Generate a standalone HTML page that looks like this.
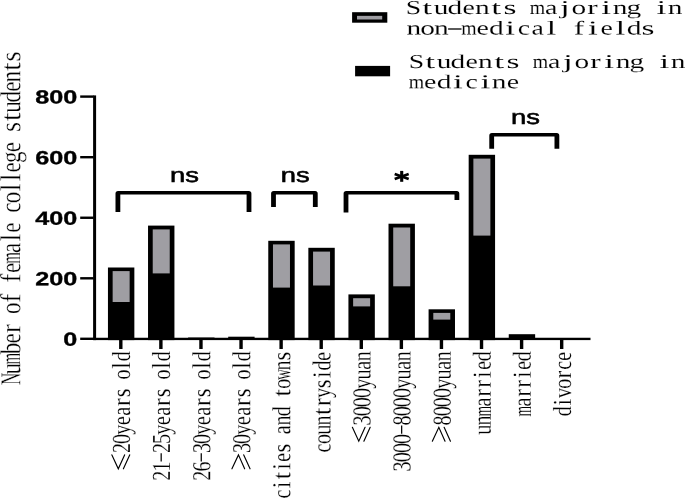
<!DOCTYPE html>
<html><head><meta charset="utf-8"><title>chart</title>
<style>html,body{margin:0;padding:0;background:#fff;}svg{display:block;will-change:transform;}text{font-family:"Liberation Sans",sans-serif;fill:#000;text-rendering:geometricPrecision;}.mono{font-family:"Liberation Mono",monospace;}.serif{font-family:"Liberation Serif",serif;}.leg{stroke:#fff;stroke-width:0.2px;}.legs{stroke:#fff;stroke-width:0.1px;}.lab{stroke:#fff;stroke-width:0.32px;}.labx{stroke:#fff;stroke-width:0.2px;}</style></head><body>
<svg width="685" height="498" viewBox="0 0 685 498">
<rect width="685" height="498" fill="#fff"/>
<g>
<rect x="107.95" y="267.5" width="26.40" height="72.60" fill="#000"/>
<rect x="112.65" y="271.1" width="17.00" height="30.90" fill="#9f9ea3"/>
<rect x="148.03" y="225.6" width="26.40" height="114.50" fill="#000"/>
<rect x="152.73" y="229.4" width="17.00" height="44.00" fill="#9f9ea3"/>
<rect x="268.27" y="240.8" width="26.40" height="99.30" fill="#000"/>
<rect x="272.97" y="244.4" width="17.00" height="43.20" fill="#9f9ea3"/>
<rect x="308.35" y="247.8" width="26.40" height="92.30" fill="#000"/>
<rect x="313.05" y="251.6" width="17.00" height="33.90" fill="#9f9ea3"/>
<rect x="348.43" y="294.4" width="26.40" height="45.70" fill="#000"/>
<rect x="353.13" y="298.2" width="17.00" height="8.20" fill="#9f9ea3"/>
<rect x="388.51" y="223.7" width="26.40" height="116.40" fill="#000"/>
<rect x="393.21" y="227.5" width="17.00" height="58.80" fill="#9f9ea3"/>
<rect x="428.59" y="309.3" width="26.40" height="30.80" fill="#000"/>
<rect x="433.29" y="312.9" width="17.00" height="6.70" fill="#9f9ea3"/>
<rect x="468.67" y="154.8" width="26.40" height="185.30" fill="#000"/>
<rect x="473.37" y="158.6" width="17.00" height="77.00" fill="#9f9ea3"/>
<rect x="188.11" y="337.2" width="26.40" height="1.5" fill="#000" opacity="0.6"/>
<rect x="228.19" y="336.7" width="26.40" height="2" fill="#000"/>
<rect x="508.75" y="334.2" width="26.40" height="5" fill="#000"/>
<rect x="93.1" y="95.4" width="3.0" height="244.70" fill="#000"/>
<rect x="93.2" y="337.75" width="497.30" height="2.35" fill="#000"/>
<rect x="80.2" y="95.40" width="13.5" height="2.4" fill="#000"/>
<text x="0" y="0" font-size="19.0" font-weight="bold" stroke="#000" stroke-width="0.35" text-anchor="end" transform="translate(77.2,103.60) rotate(0.04) scale(1.325,1)">800</text>
<rect x="80.2" y="156.00" width="13.5" height="2.4" fill="#000"/>
<text x="0" y="0" font-size="19.0" font-weight="bold" stroke="#000" stroke-width="0.35" text-anchor="end" transform="translate(77.2,164.20) rotate(0.04) scale(1.325,1)">600</text>
<rect x="80.2" y="216.55" width="13.5" height="2.4" fill="#000"/>
<text x="0" y="0" font-size="19.0" font-weight="bold" stroke="#000" stroke-width="0.35" text-anchor="end" transform="translate(77.2,224.75) rotate(0.04) scale(1.325,1)">400</text>
<rect x="80.2" y="277.10" width="13.5" height="2.4" fill="#000"/>
<text x="0" y="0" font-size="19.0" font-weight="bold" stroke="#000" stroke-width="0.35" text-anchor="end" transform="translate(77.2,285.30) rotate(0.04) scale(1.325,1)">200</text>
<rect x="80.2" y="337.60" width="13.5" height="2.4" fill="#000"/>
<text x="0" y="0" font-size="19.0" font-weight="bold" stroke="#000" stroke-width="0.35" text-anchor="end" transform="translate(77.2,345.80) rotate(0.04) scale(1.325,1)">0</text>
<rect x="119.10" y="339.6" width="3.4" height="9.40" fill="#000"/>
<rect x="159.18" y="339.6" width="3.4" height="9.40" fill="#000"/>
<rect x="199.26" y="339.6" width="3.4" height="9.40" fill="#000"/>
<rect x="239.34" y="339.6" width="3.4" height="9.40" fill="#000"/>
<rect x="279.42" y="339.6" width="3.4" height="9.40" fill="#000"/>
<rect x="319.50" y="339.6" width="3.4" height="9.40" fill="#000"/>
<rect x="359.58" y="339.6" width="3.4" height="9.40" fill="#000"/>
<rect x="399.66" y="339.6" width="3.4" height="9.40" fill="#000"/>
<rect x="439.74" y="339.6" width="3.4" height="9.40" fill="#000"/>
<rect x="479.82" y="339.6" width="3.4" height="9.40" fill="#000"/>
<rect x="519.90" y="339.6" width="3.4" height="9.40" fill="#000"/>
<rect x="559.98" y="339.6" width="3.4" height="9.40" fill="#000"/>
<path d="M115.5 212 L115.5 193.60 Q115.5 191.0 118.10 191.0 L248.80 191.0 Q251.4 191.0 251.4 193.60 L251.4 212 L246.60 212 L246.60 194.50 L120.30 194.50 L120.30 212 Z" fill="#000"/>
<path d="M271.1 207 L271.1 193.60 Q271.1 191.0 273.70 191.0 L315.10 191.0 Q317.7 191.0 317.7 193.60 L317.7 207 L312.90 207 L312.90 194.50 L275.90 194.50 L275.90 207 Z" fill="#000"/>
<path d="M343.6 212.5 L343.6 193.60 Q343.6 191.0 346.20 191.0 L456.70 191.0 Q459.3 191.0 459.3 193.60 L459.3 199.9 L454.50 199.9 L454.50 194.50 L348.40 194.50 L348.40 212.5 Z" fill="#000"/>
<path d="M489.3 148.8 L489.3 135.70 Q489.3 133.1 491.90 133.1 L556.70 133.1 Q559.3 133.1 559.3 135.70 L559.3 148.8 L554.50 148.8 L554.50 136.60 L494.10 136.60 L494.10 148.8 Z" fill="#000"/>
<text font-size="20.6" text-anchor="middle" stroke="#000" stroke-width="0.55" transform="translate(184.5,182.0) scale(1.33,1)">ns</text>
<text font-size="20.6" text-anchor="middle" stroke="#000" stroke-width="0.55" transform="translate(295.2,182.0) scale(1.33,1)">ns</text>
<text font-size="20.6" text-anchor="middle" stroke="#000" stroke-width="0.55" transform="translate(525.4,124.4) scale(1.33,1)">ns</text>
<g stroke="#000" stroke-width="3.1" fill="none"><path d="M401.7 170.9 L401.7 181.8"/><path d="M394.7 173.95 L408.7 178.95" stroke-width="2.7"/><path d="M394.7 178.95 L408.7 173.95" stroke-width="2.7"/></g>
<text class="serif labx" font-size="26.0" text-anchor="middle" transform="translate(130.00,448.10) rotate(-89.95) scale(0.770,1)">2</text>
<text class="serif labx" font-size="26.0" text-anchor="middle" transform="translate(130.00,438.91) rotate(-89.95) scale(0.770,1)">0</text>
<text class="serif labx" font-size="26.0" text-anchor="middle" transform="translate(130.00,429.72) rotate(-89.95) scale(0.770,1)">y</text>
<text class="serif labx" font-size="26.0" text-anchor="middle" transform="translate(130.00,420.53) rotate(-89.95) scale(0.770,1)">e</text>
<text class="serif labx" font-size="26.0" text-anchor="middle" transform="translate(130.00,411.34) rotate(-89.95) scale(0.770,1)">a</text>
<text class="serif labx" font-size="26.0" text-anchor="middle" transform="translate(130.00,402.15) rotate(-89.95) scale(0.901,1)">r</text>
<text class="serif labx" font-size="26.0" text-anchor="middle" transform="translate(130.00,392.96) rotate(-89.95) scale(0.862,1)">s</text>
<text class="serif labx" font-size="26.0" text-anchor="middle" transform="translate(130.00,374.58) rotate(-89.95) scale(0.770,1)">o</text>
<text class="serif labx" font-size="26.0" text-anchor="middle" transform="translate(130.00,365.39) rotate(-89.95) scale(0.924,1)">l</text>
<text class="serif labx" font-size="26.0" text-anchor="middle" transform="translate(130.00,356.20) rotate(-89.95) scale(0.770,1)">d</text>
<g stroke="#000" stroke-width="1.15" fill="none" stroke-linecap="round"><path d="M111.90 454.89 L118.30 468.79 L124.60 454.89"/><path d="M123.40 468.79 L129.70 454.89"/></g>
<text class="serif labx" font-size="26.0" text-anchor="middle" transform="translate(170.08,475.67) rotate(-89.95) scale(0.770,1)">2</text>
<text class="serif labx" font-size="26.0" text-anchor="middle" transform="translate(170.08,466.48) rotate(-89.95) scale(0.770,1)">1</text>
<path d="M161.18 453.19 L161.18 461.39" stroke="#000" stroke-width="1.25" fill="none"/>
<text class="serif labx" font-size="26.0" text-anchor="middle" transform="translate(170.08,448.10) rotate(-89.95) scale(0.770,1)">2</text>
<text class="serif labx" font-size="26.0" text-anchor="middle" transform="translate(170.08,438.91) rotate(-89.95) scale(0.770,1)">5</text>
<text class="serif labx" font-size="26.0" text-anchor="middle" transform="translate(170.08,429.72) rotate(-89.95) scale(0.770,1)">y</text>
<text class="serif labx" font-size="26.0" text-anchor="middle" transform="translate(170.08,420.53) rotate(-89.95) scale(0.770,1)">e</text>
<text class="serif labx" font-size="26.0" text-anchor="middle" transform="translate(170.08,411.34) rotate(-89.95) scale(0.770,1)">a</text>
<text class="serif labx" font-size="26.0" text-anchor="middle" transform="translate(170.08,402.15) rotate(-89.95) scale(0.901,1)">r</text>
<text class="serif labx" font-size="26.0" text-anchor="middle" transform="translate(170.08,392.96) rotate(-89.95) scale(0.862,1)">s</text>
<text class="serif labx" font-size="26.0" text-anchor="middle" transform="translate(170.08,374.58) rotate(-89.95) scale(0.770,1)">o</text>
<text class="serif labx" font-size="26.0" text-anchor="middle" transform="translate(170.08,365.39) rotate(-89.95) scale(0.924,1)">l</text>
<text class="serif labx" font-size="26.0" text-anchor="middle" transform="translate(170.08,356.20) rotate(-89.95) scale(0.770,1)">d</text>
<text class="serif labx" font-size="26.0" text-anchor="middle" transform="translate(210.16,475.67) rotate(-89.95) scale(0.770,1)">2</text>
<text class="serif labx" font-size="26.0" text-anchor="middle" transform="translate(210.16,466.48) rotate(-89.95) scale(0.770,1)">6</text>
<path d="M201.26 453.19 L201.26 461.39" stroke="#000" stroke-width="1.25" fill="none"/>
<text class="serif labx" font-size="26.0" text-anchor="middle" transform="translate(210.16,448.10) rotate(-89.95) scale(0.770,1)">3</text>
<text class="serif labx" font-size="26.0" text-anchor="middle" transform="translate(210.16,438.91) rotate(-89.95) scale(0.770,1)">0</text>
<text class="serif labx" font-size="26.0" text-anchor="middle" transform="translate(210.16,429.72) rotate(-89.95) scale(0.770,1)">y</text>
<text class="serif labx" font-size="26.0" text-anchor="middle" transform="translate(210.16,420.53) rotate(-89.95) scale(0.770,1)">e</text>
<text class="serif labx" font-size="26.0" text-anchor="middle" transform="translate(210.16,411.34) rotate(-89.95) scale(0.770,1)">a</text>
<text class="serif labx" font-size="26.0" text-anchor="middle" transform="translate(210.16,402.15) rotate(-89.95) scale(0.901,1)">r</text>
<text class="serif labx" font-size="26.0" text-anchor="middle" transform="translate(210.16,392.96) rotate(-89.95) scale(0.862,1)">s</text>
<text class="serif labx" font-size="26.0" text-anchor="middle" transform="translate(210.16,374.58) rotate(-89.95) scale(0.770,1)">o</text>
<text class="serif labx" font-size="26.0" text-anchor="middle" transform="translate(210.16,365.39) rotate(-89.95) scale(0.924,1)">l</text>
<text class="serif labx" font-size="26.0" text-anchor="middle" transform="translate(210.16,356.20) rotate(-89.95) scale(0.770,1)">d</text>
<text class="serif labx" font-size="26.0" text-anchor="middle" transform="translate(250.24,448.10) rotate(-89.95) scale(0.770,1)">3</text>
<text class="serif labx" font-size="26.0" text-anchor="middle" transform="translate(250.24,438.91) rotate(-89.95) scale(0.770,1)">0</text>
<text class="serif labx" font-size="26.0" text-anchor="middle" transform="translate(250.24,429.72) rotate(-89.95) scale(0.770,1)">y</text>
<text class="serif labx" font-size="26.0" text-anchor="middle" transform="translate(250.24,420.53) rotate(-89.95) scale(0.770,1)">e</text>
<text class="serif labx" font-size="26.0" text-anchor="middle" transform="translate(250.24,411.34) rotate(-89.95) scale(0.770,1)">a</text>
<text class="serif labx" font-size="26.0" text-anchor="middle" transform="translate(250.24,402.15) rotate(-89.95) scale(0.901,1)">r</text>
<text class="serif labx" font-size="26.0" text-anchor="middle" transform="translate(250.24,392.96) rotate(-89.95) scale(0.862,1)">s</text>
<text class="serif labx" font-size="26.0" text-anchor="middle" transform="translate(250.24,374.58) rotate(-89.95) scale(0.770,1)">o</text>
<text class="serif labx" font-size="26.0" text-anchor="middle" transform="translate(250.24,365.39) rotate(-89.95) scale(0.924,1)">l</text>
<text class="serif labx" font-size="26.0" text-anchor="middle" transform="translate(250.24,356.20) rotate(-89.95) scale(0.770,1)">d</text>
<g stroke="#000" stroke-width="1.15" fill="none" stroke-linecap="round"><path d="M231.94 468.79 L238.44 454.89 L244.64 468.79"/><path d="M243.74 454.89 L250.04 468.79"/></g>
<text class="serif labx" font-size="26.0" text-anchor="middle" transform="translate(290.32,494.05) rotate(-89.95) scale(0.770,1)">c</text>
<text class="serif labx" font-size="26.0" text-anchor="middle" transform="translate(290.32,484.86) rotate(-89.95) scale(0.924,1)">i</text>
<text class="serif labx" font-size="26.0" text-anchor="middle" transform="translate(290.32,475.67) rotate(-89.95) scale(1.001,1)">t</text>
<text class="serif labx" font-size="26.0" text-anchor="middle" transform="translate(290.32,466.48) rotate(-89.95) scale(0.924,1)">i</text>
<text class="serif labx" font-size="26.0" text-anchor="middle" transform="translate(290.32,457.29) rotate(-89.95) scale(0.770,1)">e</text>
<text class="serif labx" font-size="26.0" text-anchor="middle" transform="translate(290.32,448.10) rotate(-89.95) scale(0.862,1)">s</text>
<text class="serif labx" font-size="26.0" text-anchor="middle" transform="translate(290.32,429.72) rotate(-89.95) scale(0.770,1)">a</text>
<text class="serif labx" font-size="26.0" text-anchor="middle" transform="translate(290.32,420.53) rotate(-89.95) scale(0.770,1)">n</text>
<text class="serif labx" font-size="26.0" text-anchor="middle" transform="translate(290.32,411.34) rotate(-89.95) scale(0.770,1)">d</text>
<text class="serif labx" font-size="26.0" text-anchor="middle" transform="translate(290.32,392.96) rotate(-89.95) scale(1.001,1)">t</text>
<text class="serif labx" font-size="26.0" text-anchor="middle" transform="translate(290.32,383.77) rotate(-89.95) scale(0.770,1)">o</text>
<text class="serif labx" font-size="26.0" text-anchor="middle" transform="translate(290.32,374.58) rotate(-89.95) scale(0.563,1)">w</text>
<text class="serif labx" font-size="26.0" text-anchor="middle" transform="translate(290.32,365.39) rotate(-89.95) scale(0.770,1)">n</text>
<text class="serif labx" font-size="26.0" text-anchor="middle" transform="translate(290.32,356.20) rotate(-89.95) scale(0.862,1)">s</text>
<text class="serif labx" font-size="26.0" text-anchor="middle" transform="translate(330.40,448.10) rotate(-89.95) scale(0.770,1)">c</text>
<text class="serif labx" font-size="26.0" text-anchor="middle" transform="translate(330.40,438.91) rotate(-89.95) scale(0.770,1)">o</text>
<text class="serif labx" font-size="26.0" text-anchor="middle" transform="translate(330.40,429.72) rotate(-89.95) scale(0.770,1)">u</text>
<text class="serif labx" font-size="26.0" text-anchor="middle" transform="translate(330.40,420.53) rotate(-89.95) scale(0.770,1)">n</text>
<text class="serif labx" font-size="26.0" text-anchor="middle" transform="translate(330.40,411.34) rotate(-89.95) scale(1.001,1)">t</text>
<text class="serif labx" font-size="26.0" text-anchor="middle" transform="translate(330.40,402.15) rotate(-89.95) scale(0.901,1)">r</text>
<text class="serif labx" font-size="26.0" text-anchor="middle" transform="translate(330.40,392.96) rotate(-89.95) scale(0.770,1)">y</text>
<text class="serif labx" font-size="26.0" text-anchor="middle" transform="translate(330.40,383.77) rotate(-89.95) scale(0.862,1)">s</text>
<text class="serif labx" font-size="26.0" text-anchor="middle" transform="translate(330.40,374.58) rotate(-89.95) scale(0.924,1)">i</text>
<text class="serif labx" font-size="26.0" text-anchor="middle" transform="translate(330.40,365.39) rotate(-89.95) scale(0.770,1)">d</text>
<text class="serif labx" font-size="26.0" text-anchor="middle" transform="translate(330.40,356.20) rotate(-89.95) scale(0.770,1)">e</text>
<text class="serif labx" font-size="26.0" text-anchor="middle" transform="translate(370.48,420.53) rotate(-89.95) scale(0.770,1)">3</text>
<text class="serif labx" font-size="26.0" text-anchor="middle" transform="translate(370.48,411.34) rotate(-89.95) scale(0.770,1)">0</text>
<text class="serif labx" font-size="26.0" text-anchor="middle" transform="translate(370.48,402.15) rotate(-89.95) scale(0.770,1)">0</text>
<text class="serif labx" font-size="26.0" text-anchor="middle" transform="translate(370.48,392.96) rotate(-89.95) scale(0.770,1)">0</text>
<text class="serif labx" font-size="26.0" text-anchor="middle" transform="translate(370.48,383.77) rotate(-89.95) scale(0.770,1)">y</text>
<text class="serif labx" font-size="26.0" text-anchor="middle" transform="translate(370.48,374.58) rotate(-89.95) scale(0.770,1)">u</text>
<text class="serif labx" font-size="26.0" text-anchor="middle" transform="translate(370.48,365.39) rotate(-89.95) scale(0.770,1)">a</text>
<text class="serif labx" font-size="26.0" text-anchor="middle" transform="translate(370.48,356.20) rotate(-89.95) scale(0.770,1)">n</text>
<g stroke="#000" stroke-width="1.15" fill="none" stroke-linecap="round"><path d="M352.38 427.32 L358.78 441.22 L365.08 427.32"/><path d="M363.88 441.22 L370.18 427.32"/></g>
<text class="serif labx" font-size="26.0" text-anchor="middle" transform="translate(410.56,466.48) rotate(-89.95) scale(0.770,1)">3</text>
<text class="serif labx" font-size="26.0" text-anchor="middle" transform="translate(410.56,457.29) rotate(-89.95) scale(0.770,1)">0</text>
<text class="serif labx" font-size="26.0" text-anchor="middle" transform="translate(410.56,448.10) rotate(-89.95) scale(0.770,1)">0</text>
<text class="serif labx" font-size="26.0" text-anchor="middle" transform="translate(410.56,438.91) rotate(-89.95) scale(0.770,1)">0</text>
<path d="M401.66 425.62 L401.66 433.82" stroke="#000" stroke-width="1.25" fill="none"/>
<text class="serif labx" font-size="26.0" text-anchor="middle" transform="translate(410.56,420.53) rotate(-89.95) scale(0.770,1)">8</text>
<text class="serif labx" font-size="26.0" text-anchor="middle" transform="translate(410.56,411.34) rotate(-89.95) scale(0.770,1)">0</text>
<text class="serif labx" font-size="26.0" text-anchor="middle" transform="translate(410.56,402.15) rotate(-89.95) scale(0.770,1)">0</text>
<text class="serif labx" font-size="26.0" text-anchor="middle" transform="translate(410.56,392.96) rotate(-89.95) scale(0.770,1)">0</text>
<text class="serif labx" font-size="26.0" text-anchor="middle" transform="translate(410.56,383.77) rotate(-89.95) scale(0.770,1)">y</text>
<text class="serif labx" font-size="26.0" text-anchor="middle" transform="translate(410.56,374.58) rotate(-89.95) scale(0.770,1)">u</text>
<text class="serif labx" font-size="26.0" text-anchor="middle" transform="translate(410.56,365.39) rotate(-89.95) scale(0.770,1)">a</text>
<text class="serif labx" font-size="26.0" text-anchor="middle" transform="translate(410.56,356.20) rotate(-89.95) scale(0.770,1)">n</text>
<text class="serif labx" font-size="26.0" text-anchor="middle" transform="translate(450.64,420.53) rotate(-89.95) scale(0.770,1)">8</text>
<text class="serif labx" font-size="26.0" text-anchor="middle" transform="translate(450.64,411.34) rotate(-89.95) scale(0.770,1)">0</text>
<text class="serif labx" font-size="26.0" text-anchor="middle" transform="translate(450.64,402.15) rotate(-89.95) scale(0.770,1)">0</text>
<text class="serif labx" font-size="26.0" text-anchor="middle" transform="translate(450.64,392.96) rotate(-89.95) scale(0.770,1)">0</text>
<text class="serif labx" font-size="26.0" text-anchor="middle" transform="translate(450.64,383.77) rotate(-89.95) scale(0.770,1)">y</text>
<text class="serif labx" font-size="26.0" text-anchor="middle" transform="translate(450.64,374.58) rotate(-89.95) scale(0.770,1)">u</text>
<text class="serif labx" font-size="26.0" text-anchor="middle" transform="translate(450.64,365.39) rotate(-89.95) scale(0.770,1)">a</text>
<text class="serif labx" font-size="26.0" text-anchor="middle" transform="translate(450.64,356.20) rotate(-89.95) scale(0.770,1)">n</text>
<g stroke="#000" stroke-width="1.15" fill="none" stroke-linecap="round"><path d="M432.34 441.22 L438.84 427.32 L445.04 441.22"/><path d="M444.14 427.32 L450.44 441.22"/></g>
<text class="serif labx" font-size="26.0" text-anchor="middle" transform="translate(490.72,429.72) rotate(-89.95) scale(0.770,1)">u</text>
<text class="serif labx" font-size="26.0" text-anchor="middle" transform="translate(490.72,420.53) rotate(-89.95) scale(0.770,1)">n</text>
<text class="serif labx" font-size="26.0" text-anchor="middle" transform="translate(490.72,411.34) rotate(-89.95) scale(0.522,1)">m</text>
<text class="serif labx" font-size="26.0" text-anchor="middle" transform="translate(490.72,402.15) rotate(-89.95) scale(0.770,1)">a</text>
<text class="serif labx" font-size="26.0" text-anchor="middle" transform="translate(490.72,392.96) rotate(-89.95) scale(0.901,1)">r</text>
<text class="serif labx" font-size="26.0" text-anchor="middle" transform="translate(490.72,383.77) rotate(-89.95) scale(0.901,1)">r</text>
<text class="serif labx" font-size="26.0" text-anchor="middle" transform="translate(490.72,374.58) rotate(-89.95) scale(0.924,1)">i</text>
<text class="serif labx" font-size="26.0" text-anchor="middle" transform="translate(490.72,365.39) rotate(-89.95) scale(0.770,1)">e</text>
<text class="serif labx" font-size="26.0" text-anchor="middle" transform="translate(490.72,356.20) rotate(-89.95) scale(0.770,1)">d</text>
<text class="serif labx" font-size="26.0" text-anchor="middle" transform="translate(530.80,411.34) rotate(-89.95) scale(0.522,1)">m</text>
<text class="serif labx" font-size="26.0" text-anchor="middle" transform="translate(530.80,402.15) rotate(-89.95) scale(0.770,1)">a</text>
<text class="serif labx" font-size="26.0" text-anchor="middle" transform="translate(530.80,392.96) rotate(-89.95) scale(0.901,1)">r</text>
<text class="serif labx" font-size="26.0" text-anchor="middle" transform="translate(530.80,383.77) rotate(-89.95) scale(0.901,1)">r</text>
<text class="serif labx" font-size="26.0" text-anchor="middle" transform="translate(530.80,374.58) rotate(-89.95) scale(0.924,1)">i</text>
<text class="serif labx" font-size="26.0" text-anchor="middle" transform="translate(530.80,365.39) rotate(-89.95) scale(0.770,1)">e</text>
<text class="serif labx" font-size="26.0" text-anchor="middle" transform="translate(530.80,356.20) rotate(-89.95) scale(0.770,1)">d</text>
<text class="serif labx" font-size="26.0" text-anchor="middle" transform="translate(570.88,411.34) rotate(-89.95) scale(0.770,1)">d</text>
<text class="serif labx" font-size="26.0" text-anchor="middle" transform="translate(570.88,402.15) rotate(-89.95) scale(0.924,1)">i</text>
<text class="serif labx" font-size="26.0" text-anchor="middle" transform="translate(570.88,392.96) rotate(-89.95) scale(0.770,1)">v</text>
<text class="serif labx" font-size="26.0" text-anchor="middle" transform="translate(570.88,383.77) rotate(-89.95) scale(0.770,1)">o</text>
<text class="serif labx" font-size="26.0" text-anchor="middle" transform="translate(570.88,374.58) rotate(-89.95) scale(0.901,1)">r</text>
<text class="serif labx" font-size="26.0" text-anchor="middle" transform="translate(570.88,365.39) rotate(-89.95) scale(0.770,1)">c</text>
<text class="serif labx" font-size="26.0" text-anchor="middle" transform="translate(570.88,356.20) rotate(-89.95) scale(0.770,1)">e</text>
<text class="serif lab" font-size="28.8" text-anchor="middle" transform="translate(20.20,378.76) rotate(-89.95) scale(0.591,1)">N</text>
<text class="serif lab" font-size="28.8" text-anchor="middle" transform="translate(20.20,368.69) rotate(-89.95) scale(0.800,1)">u</text>
<text class="serif lab" font-size="28.8" text-anchor="middle" transform="translate(20.20,358.62) rotate(-89.95) scale(0.517,1)">m</text>
<text class="serif lab" font-size="28.8" text-anchor="middle" transform="translate(20.20,348.56) rotate(-89.95) scale(0.800,1)">b</text>
<text class="serif lab" font-size="28.8" text-anchor="middle" transform="translate(20.20,338.49) rotate(-89.95) scale(0.800,1)">e</text>
<text class="serif lab" font-size="28.8" text-anchor="middle" transform="translate(20.20,328.42) rotate(-89.95) scale(0.936,1)">r</text>
<text class="serif lab" font-size="28.8" text-anchor="middle" transform="translate(20.20,308.27) rotate(-89.95) scale(0.800,1)">o</text>
<text class="serif lab" font-size="28.8" text-anchor="middle" transform="translate(20.20,298.21) rotate(-89.95) scale(0.920,1)">f</text>
<text class="serif lab" font-size="28.8" text-anchor="middle" transform="translate(20.20,278.06) rotate(-89.95) scale(0.920,1)">f</text>
<text class="serif lab" font-size="28.8" text-anchor="middle" transform="translate(20.20,268.00) rotate(-89.95) scale(0.800,1)">e</text>
<text class="serif lab" font-size="28.8" text-anchor="middle" transform="translate(20.20,257.93) rotate(-89.95) scale(0.517,1)">m</text>
<text class="serif lab" font-size="28.8" text-anchor="middle" transform="translate(20.20,247.86) rotate(-89.95) scale(0.800,1)">a</text>
<text class="serif lab" font-size="28.8" text-anchor="middle" transform="translate(20.20,237.78) rotate(-89.95) scale(0.960,1)">l</text>
<text class="serif lab" font-size="28.8" text-anchor="middle" transform="translate(20.20,227.72) rotate(-89.95) scale(0.800,1)">e</text>
<text class="serif lab" font-size="28.8" text-anchor="middle" transform="translate(20.20,207.58) rotate(-89.95) scale(0.800,1)">c</text>
<text class="serif lab" font-size="28.8" text-anchor="middle" transform="translate(20.20,197.50) rotate(-89.95) scale(0.800,1)">o</text>
<text class="serif lab" font-size="28.8" text-anchor="middle" transform="translate(20.20,187.44) rotate(-89.95) scale(0.960,1)">l</text>
<text class="serif lab" font-size="28.8" text-anchor="middle" transform="translate(20.20,177.37) rotate(-89.95) scale(0.960,1)">l</text>
<text class="serif lab" font-size="28.8" text-anchor="middle" transform="translate(20.20,167.30) rotate(-89.95) scale(0.800,1)">e</text>
<text class="serif lab" font-size="28.8" text-anchor="middle" transform="translate(20.20,157.22) rotate(-89.95) scale(0.800,1)">g</text>
<text class="serif lab" font-size="28.8" text-anchor="middle" transform="translate(20.20,147.16) rotate(-89.95) scale(0.800,1)">e</text>
<text class="serif lab" font-size="28.8" text-anchor="middle" transform="translate(20.20,127.01) rotate(-89.95) scale(0.896,1)">s</text>
<text class="serif lab" font-size="28.8" text-anchor="middle" transform="translate(20.20,116.94) rotate(-89.95) scale(1.040,1)">t</text>
<text class="serif lab" font-size="28.8" text-anchor="middle" transform="translate(20.20,106.88) rotate(-89.95) scale(0.800,1)">u</text>
<text class="serif lab" font-size="28.8" text-anchor="middle" transform="translate(20.20,96.81) rotate(-89.95) scale(0.800,1)">d</text>
<text class="serif lab" font-size="28.8" text-anchor="middle" transform="translate(20.20,86.74) rotate(-89.95) scale(0.800,1)">e</text>
<text class="serif lab" font-size="28.8" text-anchor="middle" transform="translate(20.20,76.67) rotate(-89.95) scale(0.800,1)">n</text>
<text class="serif lab" font-size="28.8" text-anchor="middle" transform="translate(20.20,66.60) rotate(-89.95) scale(1.040,1)">t</text>
<text class="serif lab" font-size="28.8" text-anchor="middle" transform="translate(20.20,56.52) rotate(-89.95) scale(0.896,1)">s</text>
<rect x="352.1" y="12.2" width="35.2" height="10.5" fill="#000"/>
<rect x="357.0" y="15.85" width="25.2" height="3.65" fill="#9f9ea3"/>
<rect x="355.1" y="65.9" width="35.0" height="10.4" fill="#000"/>
<text class="serif legs" font-size="19.6" text-anchor="middle" transform="translate(413.49,14.0) rotate(0.03) scale(1.415,1)">S</text>
<text class="serif legs" font-size="19.6" text-anchor="middle" transform="translate(427.25,14.0) rotate(0.03) scale(1.800,1)">t</text>
<text class="serif legs" font-size="19.6" text-anchor="middle" transform="translate(441.03,14.0) rotate(0.03) scale(1.500,1)">u</text>
<text class="serif legs" font-size="19.6" text-anchor="middle" transform="translate(454.80,14.0) rotate(0.03) scale(1.500,1)">d</text>
<text class="serif legs" font-size="19.6" text-anchor="middle" transform="translate(468.56,14.0) rotate(0.03) scale(1.420,1)">e</text>
<text class="serif legs" font-size="19.6" text-anchor="middle" transform="translate(482.34,14.0) rotate(0.03) scale(1.500,1)">n</text>
<text class="serif legs" font-size="19.6" text-anchor="middle" transform="translate(496.11,14.0) rotate(0.03) scale(1.800,1)">t</text>
<text class="serif legs" font-size="19.6" text-anchor="middle" transform="translate(509.88,14.0) rotate(0.03) scale(1.700,1)">s</text>
<text class="serif legs" font-size="19.6" text-anchor="middle" transform="translate(537.41,14.0) rotate(0.03) scale(1.011,1)">m</text>
<text class="serif legs" font-size="19.6" text-anchor="middle" transform="translate(551.19,14.0) rotate(0.03) scale(1.420,1)">a</text>
<text class="serif legs" font-size="19.6" text-anchor="middle" transform="translate(564.96,14.0) rotate(0.03) scale(1.800,1)">j</text>
<text class="serif legs" font-size="19.6" text-anchor="middle" transform="translate(578.73,14.0) rotate(0.03) scale(1.500,1)">o</text>
<text class="serif legs" font-size="19.6" text-anchor="middle" transform="translate(592.50,14.0) rotate(0.03) scale(1.600,1)">r</text>
<text class="serif legs" font-size="19.6" text-anchor="middle" transform="translate(606.26,14.0) rotate(0.03) scale(1.800,1)">i</text>
<text class="serif legs" font-size="19.6" text-anchor="middle" transform="translate(620.04,14.0) rotate(0.03) scale(1.500,1)">n</text>
<text class="serif legs" font-size="19.6" text-anchor="middle" transform="translate(633.81,14.0) rotate(0.03) scale(1.500,1)">g</text>
<text class="serif legs" font-size="19.6" text-anchor="middle" transform="translate(661.35,14.0) rotate(0.03) scale(1.800,1)">i</text>
<text class="serif legs" font-size="19.6" text-anchor="middle" transform="translate(675.12,14.0) rotate(0.03) scale(1.500,1)">n</text>
<text class="serif legs" font-size="19.6" text-anchor="middle" transform="translate(413.78,34.4) rotate(0.03) scale(1.500,1)">n</text>
<text class="serif legs" font-size="19.6" text-anchor="middle" transform="translate(427.55,34.4) rotate(0.03) scale(1.500,1)">o</text>
<text class="serif legs" font-size="19.6" text-anchor="middle" transform="translate(441.32,34.4) rotate(0.03) scale(1.500,1)">n</text>
<text class="serif legs" font-size="19.6" text-anchor="middle" transform="translate(468.86,34.4) rotate(0.03) scale(1.011,1)">m</text>
<text class="serif legs" font-size="19.6" text-anchor="middle" transform="translate(482.63,34.4) rotate(0.03) scale(1.420,1)">e</text>
<text class="serif legs" font-size="19.6" text-anchor="middle" transform="translate(496.40,34.4) rotate(0.03) scale(1.500,1)">d</text>
<text class="serif legs" font-size="19.6" text-anchor="middle" transform="translate(510.17,34.4) rotate(0.03) scale(1.800,1)">i</text>
<text class="serif legs" font-size="19.6" text-anchor="middle" transform="translate(523.94,34.4) rotate(0.03) scale(1.420,1)">c</text>
<text class="serif legs" font-size="19.6" text-anchor="middle" transform="translate(537.71,34.4) rotate(0.03) scale(1.420,1)">a</text>
<text class="serif legs" font-size="19.6" text-anchor="middle" transform="translate(551.49,34.4) rotate(0.03) scale(1.800,1)">l</text>
<text class="serif legs" font-size="19.6" text-anchor="middle" transform="translate(579.02,34.4) rotate(0.03) scale(1.600,1)">f</text>
<text class="serif legs" font-size="19.6" text-anchor="middle" transform="translate(592.79,34.4) rotate(0.03) scale(1.800,1)">i</text>
<text class="serif legs" font-size="19.6" text-anchor="middle" transform="translate(606.56,34.4) rotate(0.03) scale(1.420,1)">e</text>
<text class="serif legs" font-size="19.6" text-anchor="middle" transform="translate(620.34,34.4) rotate(0.03) scale(1.800,1)">l</text>
<text class="serif legs" font-size="19.6" text-anchor="middle" transform="translate(634.11,34.4) rotate(0.03) scale(1.500,1)">d</text>
<text class="serif legs" font-size="19.6" text-anchor="middle" transform="translate(647.88,34.4) rotate(0.03) scale(1.700,1)">s</text>
<path d="M448.1 29.0 L461.5 29.0" stroke="#000" stroke-width="1.3" fill="none"/>
<text class="serif legs" font-size="19.6" text-anchor="middle" transform="translate(416.49,68.0) rotate(0.03) scale(1.415,1)">S</text>
<text class="serif legs" font-size="19.6" text-anchor="middle" transform="translate(430.25,68.0) rotate(0.03) scale(1.800,1)">t</text>
<text class="serif legs" font-size="19.6" text-anchor="middle" transform="translate(444.03,68.0) rotate(0.03) scale(1.500,1)">u</text>
<text class="serif legs" font-size="19.6" text-anchor="middle" transform="translate(457.80,68.0) rotate(0.03) scale(1.500,1)">d</text>
<text class="serif legs" font-size="19.6" text-anchor="middle" transform="translate(471.56,68.0) rotate(0.03) scale(1.420,1)">e</text>
<text class="serif legs" font-size="19.6" text-anchor="middle" transform="translate(485.34,68.0) rotate(0.03) scale(1.500,1)">n</text>
<text class="serif legs" font-size="19.6" text-anchor="middle" transform="translate(499.11,68.0) rotate(0.03) scale(1.800,1)">t</text>
<text class="serif legs" font-size="19.6" text-anchor="middle" transform="translate(512.88,68.0) rotate(0.03) scale(1.700,1)">s</text>
<text class="serif legs" font-size="19.6" text-anchor="middle" transform="translate(540.41,68.0) rotate(0.03) scale(1.011,1)">m</text>
<text class="serif legs" font-size="19.6" text-anchor="middle" transform="translate(554.19,68.0) rotate(0.03) scale(1.420,1)">a</text>
<text class="serif legs" font-size="19.6" text-anchor="middle" transform="translate(567.96,68.0) rotate(0.03) scale(1.800,1)">j</text>
<text class="serif legs" font-size="19.6" text-anchor="middle" transform="translate(581.73,68.0) rotate(0.03) scale(1.500,1)">o</text>
<text class="serif legs" font-size="19.6" text-anchor="middle" transform="translate(595.50,68.0) rotate(0.03) scale(1.600,1)">r</text>
<text class="serif legs" font-size="19.6" text-anchor="middle" transform="translate(609.26,68.0) rotate(0.03) scale(1.800,1)">i</text>
<text class="serif legs" font-size="19.6" text-anchor="middle" transform="translate(623.04,68.0) rotate(0.03) scale(1.500,1)">n</text>
<text class="serif legs" font-size="19.6" text-anchor="middle" transform="translate(636.81,68.0) rotate(0.03) scale(1.500,1)">g</text>
<text class="serif legs" font-size="19.6" text-anchor="middle" transform="translate(664.35,68.0) rotate(0.03) scale(1.800,1)">i</text>
<text class="serif legs" font-size="19.6" text-anchor="middle" transform="translate(678.12,68.0) rotate(0.03) scale(1.500,1)">n</text>
<text class="serif legs" font-size="19.6" text-anchor="middle" transform="translate(416.49,88.3) rotate(0.03) scale(1.011,1)">m</text>
<text class="serif legs" font-size="19.6" text-anchor="middle" transform="translate(430.25,88.3) rotate(0.03) scale(1.420,1)">e</text>
<text class="serif legs" font-size="19.6" text-anchor="middle" transform="translate(444.03,88.3) rotate(0.03) scale(1.500,1)">d</text>
<text class="serif legs" font-size="19.6" text-anchor="middle" transform="translate(457.80,88.3) rotate(0.03) scale(1.800,1)">i</text>
<text class="serif legs" font-size="19.6" text-anchor="middle" transform="translate(471.56,88.3) rotate(0.03) scale(1.420,1)">c</text>
<text class="serif legs" font-size="19.6" text-anchor="middle" transform="translate(485.34,88.3) rotate(0.03) scale(1.800,1)">i</text>
<text class="serif legs" font-size="19.6" text-anchor="middle" transform="translate(499.11,88.3) rotate(0.03) scale(1.500,1)">n</text>
<text class="serif legs" font-size="19.6" text-anchor="middle" transform="translate(512.88,88.3) rotate(0.03) scale(1.420,1)">e</text>
</g>
</svg></body></html>
